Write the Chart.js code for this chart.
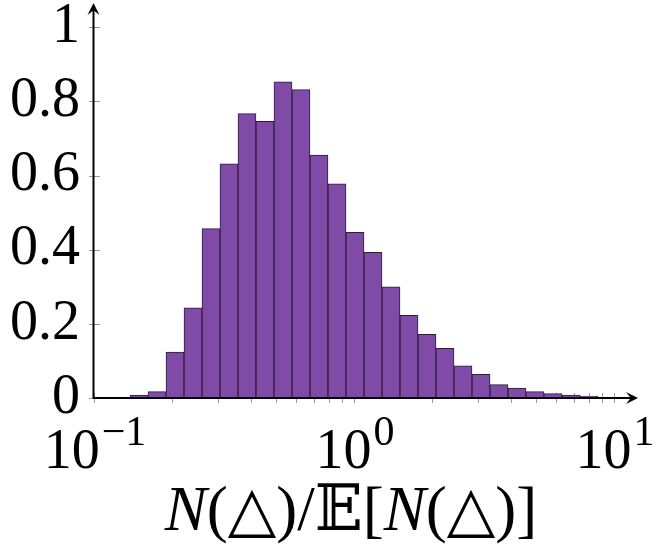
<!DOCTYPE html>
<html>
<head>
<meta charset="utf-8">
<script src="https://cdn.jsdelivr.net/npm/chart.js@4.4.1/dist/chart.umd.min.js"></script>
<style>
  html, body { margin: 0; padding: 0; background: #fff; }
  #wrap { width: 663px; height: 553px; }
</style>
</head>
<body>
<div id="wrap"><canvas id="histChart" width="663" height="553"></canvas></div>
<script>
// ---- data ----
const binEdges = [0.1376, 0.1613, 0.1892, 0.2219, 0.2602, 0.3052, 0.3579, 0.4198, 0.4923,
  0.5774, 0.6771, 0.7943, 0.9316, 1.0925, 1.2813, 1.5028, 1.7625, 2.0671, 2.4245,
  2.8435, 3.335, 3.911, 4.587, 5.380, 6.310, 7.400, 8.679, 10.18];
const binHeights = [0.008, 0.017, 0.124, 0.243, 0.457, 0.632, 0.767, 0.746, 0.853,
  0.832, 0.655, 0.578, 0.447, 0.393, 0.300, 0.223, 0.172, 0.134, 0.087,
  0.064, 0.036, 0.027, 0.017, 0.012, 0.008, 0.005, 0.002];

const yTickValues = [0, 0.2, 0.4, 0.6, 0.8, 1];
const yTickLabels = ["0", "0.2", "0.4", "0.6", "0.8", "1"];
const xMajorTicks = [0.1, 1, 10];
const xMajorExps = ["\u22121", "0", "1"];
const xMinorTicks = [0.2, 0.3, 0.4, 0.5, 0.6, 0.7, 0.8, 0.9, 2, 3, 4, 5, 6, 7, 8, 9];

const SERIF = '"Liberation Serif", "DejaVu Serif", "DejaVu Sans", serif';

// bar centres = geometric middle of each log bin
const points = binHeights.map((h, i) => ({
  x: Math.sqrt(binEdges[i] * binEdges[i + 1]),
  y: h
}));

// ================= AXES / LABELS PLUGIN =================
const axesPlugin = {
  id: "axesPlugin",
  beforeDatasetsDraw(chart) {
    const { ctx, scales: { x, y } } = chart;
    const x0 = x.getPixelForValue(0.1);
    const y0 = y.getPixelForValue(0);
    ctx.save();
    ctx.strokeStyle = "#9a9a9a";
    ctx.lineWidth = 1;
    ctx.beginPath();
    yTickValues.forEach(v => {
      const py = Math.round(y.getPixelForValue(v)) + 0.5;
      ctx.moveTo(x0 - 5, py);
      ctx.lineTo(x0 + 6, py);
    });
    xMajorTicks.concat(xMinorTicks).forEach(v => {
      const px = Math.round(x.getPixelForValue(v)) + 0.5;
      ctx.moveTo(px, y0 - 5);
      ctx.lineTo(px, y0 + 5);
    });
    ctx.stroke();
    ctx.restore();
  },
  afterDatasetsDraw(chart) {
    const { ctx, chartArea, scales: { x, y } } = chart;
    const x0 = x.getPixelForValue(0.1) - 0.5;
    const y0 = y.getPixelForValue(0);
    ctx.save();
    ctx.strokeStyle = "#000";
    ctx.fillStyle = "#000";
    ctx.lineWidth = 2;
    ctx.beginPath();
    ctx.moveTo(x0, y0);
    ctx.lineTo(x0, chartArea.top + 6);
    ctx.moveTo(x0 - 1, y0);
    ctx.lineTo(chartArea.right - 6, y0);
    ctx.stroke();
    // arrow heads
    const tip = (tx, ty, dx, dy) => {
      const L = 12, W = 6;
      const nx = -dy, ny = dx;
      ctx.beginPath();
      ctx.moveTo(tx, ty);
      ctx.lineTo(tx - dx * L + nx * W, ty - dy * L + ny * W);
      ctx.lineTo(tx - dx * L * 0.6, ty - dy * L * 0.6);
      ctx.lineTo(tx - dx * L - nx * W, ty - dy * L - ny * W);
      ctx.closePath();
      ctx.fill();
    };
    tip(x0, chartArea.top, 0, -1);
    tip(chartArea.right, y0, 1, 0);

    // x tick labels: 10^k
    xMajorTicks.forEach((v, i) => {
      const px = x.getPixelForValue(v);
      ctx.font = "56px " + SERIF;
      const wb = ctx.measureText("10").width;
      ctx.font = "42px " + SERIF;
      const we = ctx.measureText(xMajorExps[i]).width;
      const left = px - (wb + we) / 2;
      ctx.textBaseline = "alphabetic";
      ctx.textAlign = "left";
      ctx.font = "56px " + SERIF;
      ctx.fillText("10", left, 468);
      ctx.font = "42px " + SERIF;
      ctx.fillText(xMajorExps[i], left + wb + 2, 445);
    });

    // axis title  N(△)/𝔼[N(△)]
    const parts = [
      ["N", "italic 63px " + SERIF],
      ["(\u25B3)/\uD835\uDD3C[", "63px " + SERIF],
      ["N", "italic 63px " + SERIF],
      ["(\u25B3)]", "63px " + SERIF]
    ];
    let total = 0;
    parts.forEach(p => { ctx.font = p[1]; total += ctx.measureText(p[0]).width; });
    let cx = 351 - total / 2;
    parts.forEach(p => {
      ctx.font = p[1];
      ctx.fillText(p[0], cx, 530);
      cx += ctx.measureText(p[0]).width;
    });
    ctx.restore();
  }
};

// ================= CHART =================
new Chart(document.getElementById("histChart"), {
  type: "bar",
  data: {
    datasets: [{
      data: points,
      backgroundColor: "#7f4ba6",
      borderColor: "#2e1d3d",
      borderWidth: 1,
      borderSkipped: false,
      barThickness: "flex",
      barPercentage: 1,
      categoryPercentage: 1
    }]
  },
  options: {
    responsive: false,
    animation: false,
    devicePixelRatio: 1,
    layout: { padding: { top: 3, right: 25, bottom: 0, left: 0 } },
    plugins: { legend: { display: false }, tooltip: { enabled: false } },
    scales: {
      x: {
        type: "logarithmic",
        min: 0.1,
        max: 12.37,
        grid: { display: false, drawTicks: false, tickLength: 0 },
        border: { display: false },
        ticks: { display: false },
        afterFit(scale) {
          scale.height = 155;
          scale.paddingLeft = 0;
          scale.paddingRight = 0;
        }
      },
      y: {
        min: 0,
        max: 1.0655,
        grid: { display: false, drawTicks: false, tickLength: 0 },
        border: { display: false },
        afterBuildTicks(scale) {
          scale.ticks = yTickValues.map(v => ({ value: v }));
        },
        ticks: {
          autoSkip: false,
          padding: 14,
          color: "#000",
          font: { family: SERIF, size: 56 },
          callback(value, index) { return yTickLabels[index]; }
        },
        afterFit(scale) {
          scale.width = 94;
          scale.paddingTop = 0;
          scale.paddingBottom = 0;
        }
      }
    }
  },
  plugins: [axesPlugin]
});
</script>
</body>
</html>
